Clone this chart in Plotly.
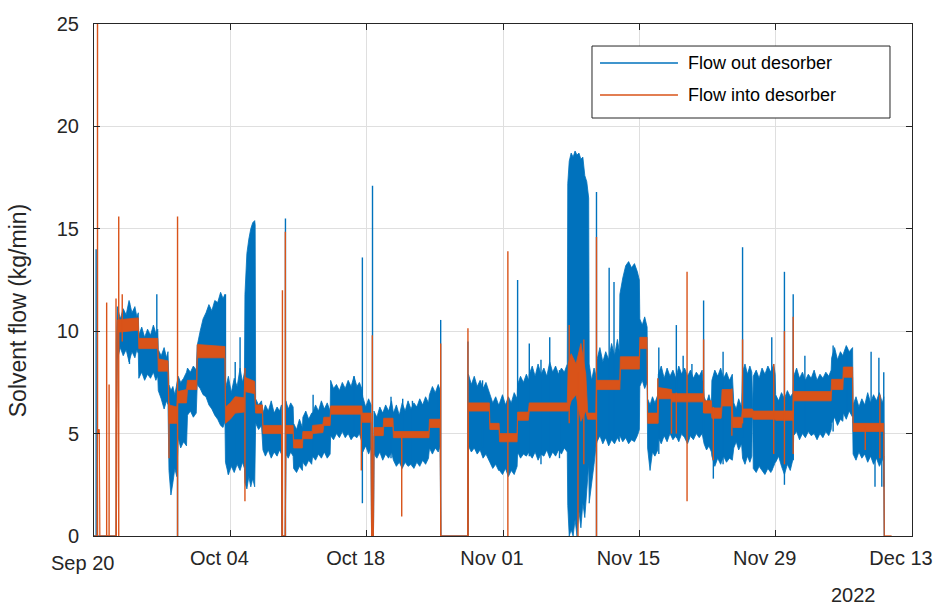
import pandas as pd
import plotly.graph_objects as go

START = pd.Timestamp("2022-09-20")

# ---- Flow out of the desorber (kg/min) -------------------------------------
# Envelope of the logged signal: day since Sep 20, lower and upper bound.
# Lines are grouped by operating period so the three lists stay aligned.
out_days = [
    0.0, 2.28,
    2.3, 2.4, 2.7, 3.0, 3.3, 3.6, 3.9, 4.2, 4.4, 4.55,
    4.6, 4.9, 5.2, 5.5, 5.8, 6.1, 6.35, 6.55,
    6.6, 6.9, 7.2, 7.45, 7.6,
    7.7, 7.9, 8.1, 8.3, 8.5,
    8.65, 8.9, 9.2, 9.5,
    9.6, 9.9, 10.2, 10.5,
    10.6, 10.9, 11.2, 11.5, 11.8, 12.1, 12.4, 12.7, 13.0, 13.25, 13.45,
    13.5, 13.8, 14.1, 14.4, 14.7, 15.0, 15.25, 15.45,
    15.5, 15.7, 15.9, 16.1, 16.3, 16.5, 16.55,
    16.6, 16.9, 17.2,
    17.35, 17.6, 17.9, 18.2, 18.5, 18.8, 19.05, 19.25,
    19.3, 19.65,
    19.7, 19.95, 20.2, 20.45,
    20.5, 20.8, 21.1, 21.4,
    21.45, 21.75, 22.05, 22.35,
    22.45, 22.75, 23.05, 23.35, 23.65, 23.95, 24.25,
    24.3, 24.6, 24.9, 25.2, 25.5, 25.8, 26.1, 26.4, 26.7, 27.0, 27.25, 27.5,
    27.6, 27.9, 28.2, 28.45,
    28.5, 28.7,
    28.75, 29.05, 29.35, 29.65, 29.95, 30.25, 30.55,
    30.75, 31.05, 31.35, 31.65, 31.95, 32.25, 32.55, 32.85, 33.15, 33.45, 33.75, 34.05, 34.35,
    34.45, 34.75, 35.05, 35.35, 35.55,
    35.6, 38.4,
    38.45, 38.75, 39.05, 39.35, 39.65, 39.95, 40.25, 40.55,
    40.65, 40.95, 41.25, 41.55,
    41.65, 41.95, 42.25, 42.55, 42.85, 43.15, 43.45,
    43.5, 43.8, 44.1, 44.4, 44.65,
    44.7, 45.0, 45.3, 45.6, 45.9, 46.2, 46.5, 46.8, 47.1, 47.4, 47.7, 48.0, 48.3, 48.6,
    48.65, 48.8, 49.0, 49.2, 49.4, 49.6, 49.8, 50.0, 50.2, 50.4, 50.6, 50.8,
    50.85, 51.1, 51.35, 51.55,
    51.65, 51.95, 52.25, 52.55, 52.85, 53.15, 53.45, 53.75, 53.95,
    54.0, 54.3, 54.6, 54.9, 55.2, 55.5, 55.8, 56.0,
    56.05, 56.3, 56.55, 56.8,
    56.85, 57.1, 57.35, 57.6, 57.9,
    57.95, 58.25, 58.55, 58.85, 59.15, 59.45, 59.75, 60.05, 60.35, 60.65, 60.95, 61.25, 61.55, 61.85, 62.15, 62.45,
    62.65, 62.9, 63.15, 63.4,
    63.45, 63.75, 64.05, 64.35, 64.65, 64.95, 65.25, 65.55,
    65.7, 65.95, 66.2, 66.5,
    66.6, 66.85, 67.1, 67.35, 67.55,
    67.6, 67.65,
    67.7, 68.0, 68.3, 68.6, 68.9, 69.2, 69.5, 69.8, 69.95,
    70.0, 70.3, 70.6, 70.9, 71.2, 71.5, 71.8,
    71.85, 72.15, 72.45, 72.75, 73.05, 73.35, 73.65, 73.95, 74.25, 74.55, 74.85, 75.15, 75.45, 75.7,
    75.75, 76.05, 76.35, 76.65, 76.9,
    76.95, 77.25, 77.55, 77.9,
    77.95, 78.25, 78.55, 78.85, 79.15, 79.45, 79.75, 80.05, 80.35, 80.65, 80.95, 81.1,
    81.15,
]
out_low = [
    0.0, 0.0,
    5.7, 8.6, 9.2, 8.8, 9.1, 8.5, 9.0, 8.7, 9.1, 8.9,
    7.7, 8.0, 7.6, 7.9, 7.7, 8.0, 7.6, 7.8,
    7.1, 6.7, 6.2, 6.6, 6.4,
    3.2, 2.0, 2.6, 3.3, 2.9,
    4.8, 4.3, 4.6, 4.4,
    5.9, 6.1, 5.8, 6.0,
    7.4, 7.2, 6.9, 6.8, 6.4, 6.2, 5.9, 5.7, 5.4, 5.3, 5.6,
    3.6, 3.0, 3.4, 3.1, 3.5, 3.2, 3.6, 3.3,
    2.6, 2.3, 2.9, 2.4, 2.8, 2.4, 2.6,
    5.5, 5.2, 5.4,
    4.2, 3.9, 4.2, 3.8, 4.1, 3.9, 4.2, 4.0,
    0.0, 0.0,
    4.0, 3.8, 4.1, 3.9,
    3.3, 3.1, 3.4, 3.2,
    3.6, 3.4, 3.7, 3.5,
    3.9, 3.7, 4.0, 3.8, 4.1, 3.8, 4.0,
    4.9, 4.7, 5.0, 4.8, 5.1, 4.8, 5.0, 4.7, 4.9, 4.8, 5.0, 4.6,
    4.1, 4.4, 4.0, 4.3,
    0.0, 0.0,
    4.0, 3.8, 4.1, 3.7, 4.0, 3.8, 4.1,
    3.7, 3.4, 3.6, 3.3, 3.6, 3.4, 3.5, 3.3, 3.6, 3.4, 3.7, 3.5, 3.8,
    4.3, 4.0, 4.3, 4.1, 4.4,
    0.0, 0.0,
    4.4, 4.1, 4.3, 4.0, 4.2, 3.8, 4.0, 3.7,
    3.6, 3.3, 3.5, 3.2,
    3.2, 3.0, 3.3, 2.9, 3.2, 3.0, 3.4,
    4.1, 3.8, 4.0, 3.9, 4.1,
    4.0, 3.8, 4.1, 3.7, 4.0, 3.9, 4.2, 3.8, 4.1, 3.9, 4.2, 4.0, 4.3, 4.1,
    1.5, 0.0, 0.3, 0.0, 0.8, 0.0, 1.2, 0.4, 1.6, 0.9, 2.2, 3.5,
    1.6, 2.4, 3.5, 4.4,
    4.6, 4.9, 4.5, 4.8, 4.4, 4.7, 4.5, 4.8, 4.6,
    4.9, 4.6, 4.8, 4.5, 4.7, 4.6, 4.9, 5.2,
    7.3, 7.6, 7.2, 7.5,
    4.3, 3.2, 4.1, 3.9, 4.2,
    4.8, 4.5, 4.9, 4.6, 5.0, 4.7, 4.9, 4.6, 5.0, 4.8, 4.5, 4.9, 4.7, 5.0, 4.8, 5.0,
    4.5, 4.2, 4.4, 4.1,
    3.9, 3.4, 3.8, 3.5, 3.9, 3.6, 3.8, 3.7,
    4.3, 4.6, 4.2, 4.5,
    3.8, 3.5, 3.9, 3.6, 3.9,
    5.9, 5.9,
    3.3, 3.1, 3.4, 3.2, 3.0, 3.3, 3.1, 3.4, 3.6,
    3.6, 3.9, 3.4, 3.0, 3.5, 3.2, 3.8,
    4.9, 5.1, 4.7, 5.0, 4.8, 5.1, 4.9, 5.0, 4.7, 5.0, 4.8, 5.1, 4.9, 5.2,
    5.5, 5.8, 5.4, 5.7, 5.6,
    6.0, 5.7, 6.1, 5.8,
    4.0, 3.7, 4.1, 3.8, 4.0, 3.6, 3.9, 3.5, 3.8, 3.4, 3.7, 3.9,
    0.0,
]
out_high = [
    0.0, 0.0,
    9.5, 11.2, 10.6, 11.1, 10.8, 11.5, 10.9, 11.2, 10.7, 10.9,
    9.8, 10.2, 9.7, 10.1, 9.8, 10.3, 9.9, 10.1,
    9.1, 8.8, 9.2, 8.7, 9.0,
    7.4, 7.1, 7.3, 6.9, 7.4,
    7.8, 7.5, 7.7, 8.0,
    8.2, 8.0, 8.3, 8.1,
    9.3, 10.0, 10.6, 10.9, 11.3, 11.0, 11.5, 11.4, 11.9, 11.6, 11.8,
    7.2, 7.8, 7.0, 7.7, 7.3, 8.2, 7.5, 8.0,
    11.8, 13.8, 14.5, 15.0, 15.3, 15.4, 15.2,
    6.7, 6.4, 6.6,
    6.0, 6.4, 6.1, 6.6, 6.0, 6.3, 6.1, 6.4,
    0.0, 0.0,
    6.6, 6.2, 6.5, 6.3,
    5.5, 5.2, 5.7, 5.3,
    5.8, 6.1, 5.7, 6.0,
    6.0, 6.4, 6.1, 6.6, 6.2, 6.5, 6.1,
    7.6, 7.2, 7.4, 7.1, 7.5, 7.2, 7.6, 7.3, 7.8, 7.3, 7.5, 7.2,
    6.8, 6.3, 6.7, 6.4,
    0.0, 0.0,
    6.1, 5.8, 6.3, 6.0, 6.4, 6.1, 6.6,
    6.0, 6.4, 5.9, 6.5, 6.1, 6.6, 6.2, 6.5, 6.3, 6.7, 6.4, 6.8, 6.5,
    6.9, 7.3, 7.0, 7.4, 7.1,
    0.0, 0.0,
    7.9, 7.4, 7.8, 7.3, 7.6, 7.2, 7.5, 7.1,
    6.9, 6.5, 6.8, 6.4,
    6.5, 6.9, 6.4, 6.8, 6.5, 7.0, 6.7,
    7.4, 7.8, 7.5, 7.9, 7.6,
    7.9, 8.3, 7.8, 8.4, 7.9, 8.2, 7.8, 8.5, 8.0, 8.3, 7.9, 8.2, 8.0, 8.4,
    17.2, 18.3, 18.7, 18.5, 18.8, 18.6, 18.7, 18.4, 18.5, 17.6, 17.3, 16.5,
    8.4, 7.6, 8.2, 7.8,
    8.6, 9.2, 8.5, 9.0, 8.6, 9.4, 8.8, 9.6, 9.0,
    11.8, 12.6, 13.2, 13.4, 13.1, 13.3, 12.9, 12.5,
    10.6, 10.3, 10.7, 10.2,
    6.7, 6.4, 6.8, 6.5, 6.9,
    7.9, 8.3, 7.7, 8.2, 7.8, 8.1, 7.7, 8.3, 7.9, 8.2, 7.8, 8.1, 7.7, 8.0, 7.8, 8.1,
    6.8, 6.5, 6.9, 6.4,
    7.6, 8.1, 7.8, 8.2, 7.7, 8.0, 7.6, 7.9,
    6.5, 6.2, 6.7, 6.3,
    8.0, 8.4, 7.9, 8.3, 8.0,
    6.1, 6.1,
    7.8, 8.1, 7.7, 8.2, 7.9, 8.3, 8.0, 8.4, 7.9,
    6.9, 6.6, 7.0, 6.7, 7.1, 6.8, 7.0,
    7.8, 8.2, 7.7, 8.0, 7.6, 7.9, 7.7, 8.1, 7.6, 7.9, 7.7, 8.0, 7.8, 8.1,
    8.7, 9.2, 8.6, 9.0, 8.8,
    8.9, 9.3, 9.0, 9.2,
    6.4, 6.8, 6.3, 6.7, 6.4, 7.0, 6.5, 6.9, 6.6, 7.0, 6.5, 6.8,
    0.0,
]

# Short excursions of the outlet flow: day, lower end, upper end
out_spike_days = [0.22, 3.64, 6.45, 8.58, 13.5, 13.8, 14.5, 15.0, 19.66, 22.5, 26.7, 27.56,
                  28.6, 30.5, 31.7, 32.7, 35.3, 35.6, 38.4, 39.9, 43.5, 44.7, 45.9, 46.8,
                  47.8, 51.6, 52.9, 53.4, 58.0, 59.8, 60.5, 61.4, 62.6, 63.6, 64.6, 66.6,
                  69.6, 70.9, 71.8, 73.0, 75.9, 77.3, 79.8, 80.2, 80.6, 80.9, 81.1]
out_spike_low = [0.0, 8.4, 7.8, 0.0, 5.8, 3.0, 3.4, 3.5, 0.0, 3.9, 4.9, 1.6,
                 0.0, 3.8, 3.6, 3.4, 4.2, 0.0, 0.0, 4.3, 4.0, 3.9, 3.5, 4.0,
                 3.8, 0.0, 4.7, 4.7, 4.0, 4.8, 4.9, 4.8, 5.0, 2.8, 3.5, 4.8,
                 3.2, 2.5, 3.7, 5.0, 5.1, 5.9, 4.0, 2.4, 4.0, 2.4, 2.4]
out_spike_high = [14.0, 11.4, 11.8, 7.5, 11.8, 7.5, 8.5, 9.7, 15.5, 6.9, 7.8, 13.6,
                  17.1, 6.8, 6.7, 6.6, 7.3, 10.55, 9.5, 7.6, 12.5, 9.4, 8.6, 9.7,
                  8.1, 16.8, 13.1, 12.4, 9.2, 10.3, 8.8, 8.4, 11.5, 6.6, 9.0, 14.1,
                  9.7, 12.9, 11.8, 8.8, 9.3, 9.2, 9.0, 6.5, 8.7, 6.5, 8.0]

# ---- Flow into the desorber (kg/min) ---------------------------------------
in_days = [0.0, 0.33, 0.35, 0.55, 0.6, 2.3, 2.4, 4.55, 4.6, 6.55, 6.6, 7.6, 7.7, 8.5, 8.6,
           9.5, 9.6, 10.55, 10.6, 13.45, 13.5, 14.0, 14.5, 15.4, 15.5, 16.5, 16.6, 17.3,
           17.35, 19.25, 19.3, 19.65, 19.7, 20.45, 20.5, 21.4, 21.45, 22.4, 22.45, 23.5,
           23.6, 24.25, 24.3, 27.5, 27.55, 28.45, 28.5, 28.7, 28.75, 29.7, 29.75, 30.7,
           30.75, 34.4, 34.45, 35.55, 35.6, 38.4, 38.45, 40.6, 40.65, 41.6, 41.65, 43.45,
           43.5, 44.6, 44.7, 48.6, 48.7, 49.0, 49.5, 50.0, 50.5, 50.7, 51.55, 51.6, 54.0,
           54.05, 56.0, 56.05, 56.8, 56.85, 57.9, 57.95, 59.3, 59.35, 62.6, 62.65, 63.4,
           63.45, 64.4, 64.5, 65.5, 65.6, 66.5, 66.6, 67.6, 67.7, 69.9, 70.0, 71.8, 71.85,
           75.7, 75.75, 76.9, 76.95, 77.9, 77.95, 81.1, 81.15, 81.9]
in_low = [0.0, 0.0, 5.0, 5.0, 0.0, 0.0, 9.95, 10.05, 9.15, 9.15, 8.05, 8.05, 5.5, 5.5, 6.5,
          6.5, 7.15, 7.15, 8.7, 8.7, 5.5, 5.7, 6.0, 6.05, 7.05, 6.95, 6.0, 6.0,
          5.0, 5.0, 0.0, 0.0, 5.0, 5.0, 4.3, 4.3, 4.75, 4.75, 5.0, 5.05,
          5.4, 5.4, 5.95, 5.95, 5.55, 5.55, 0.0, 0.0, 4.9, 4.9, 5.35, 5.35,
          4.8, 4.8, 5.3, 5.3, 0.0, 0.0, 6.1, 6.1, 5.2, 5.2, 4.6, 4.6,
          5.65, 5.65, 6.1, 6.1, 6.1, 6.6, 6.9, 5.6, 6.1, 5.7, 5.7, 7.15, 7.15,
          8.15, 8.15, 9.15, 9.15, 5.5, 5.5, 6.7, 6.7, 6.55, 6.55, 6.0, 6.0,
          5.75, 5.75, 6.35, 6.35, 5.3, 5.3, 5.8, 5.8, 5.7, 5.7, 5.65, 5.65, 6.6,
          6.6, 7.15, 7.15, 7.75, 7.75, 5.1, 5.1, 0.0, 0.0]
in_high = [0.0, 0.0, 5.2, 5.2, 0.0, 0.0, 10.55, 10.65, 9.65, 9.65, 8.65, 8.55, 6.4, 6.3, 7.05,
           7.15, 7.6, 7.6, 9.35, 9.25, 6.3, 6.5, 6.8, 6.75, 7.75, 7.55, 6.4, 6.4,
           5.4, 5.4, 0.0, 0.0, 5.4, 5.4, 4.7, 4.7, 5.1, 5.1, 5.4, 5.45,
           5.8, 5.8, 6.35, 6.35, 6.0, 6.0, 0.0, 0.0, 5.3, 5.3, 5.75, 5.75,
           5.1, 5.1, 5.7, 5.7, 0.0, 0.0, 6.5, 6.5, 5.5, 5.5, 5.0, 5.0,
           6.05, 6.05, 6.5, 6.5, 8.4, 8.9, 8.4, 9.4, 7.9, 6.0, 6.0, 7.6, 7.6,
           8.75, 8.75, 9.7, 9.7, 6.0, 6.0, 7.25, 7.15, 6.95, 6.95, 6.6, 6.6,
           6.25, 6.25, 7.15, 7.15, 5.8, 5.8, 6.2, 6.2, 6.1, 6.1, 6.1, 6.1, 7.05,
           7.05, 7.65, 7.65, 8.25, 8.25, 5.5, 5.5, 0.0, 0.0]

# Short excursions of the inlet flow: day, lower end, upper end
in_spike_days = [0.36, 1.3, 1.55, 2.26, 2.54, 2.9, 7.7, 8.58, 15.5, 19.35, 19.65, 27.45,
                 28.58, 31.6, 35.6, 38.4, 42.5, 48.8, 49.7, 50.3, 51.6, 57.9, 59.3, 59.8,
                 60.9, 62.6, 63.6, 65.5, 66.6, 69.8, 70.9, 71.8, 79.2, 80.7]
in_spike_low = [0.0, 0.0, 0.0, 0.0, 0.0, 9.5, 3.8, 0.0, 1.7, 0.0, 0.0, 3.2,
                0.0, 0.95, 0.0, 0.0, 0.0, 5.5, 0.0, 3.5, 0.0, 5.5, 5.0, 5.0,
                1.7, 6.0, 3.7, 4.9, 5.5, 4.0, 3.5, 4.0, 4.2, 3.8]
in_spike_high = [25.5, 11.4, 7.4, 11.6, 15.6, 11.8, 6.5, 15.6, 8.2, 12.0, 14.85, 6.2,
                 9.8, 5.0, 9.4, 10.15, 13.9, 10.3, 8.0, 9.6, 14.6, 7.7, 7.0, 7.0,
                 12.9, 9.6, 6.3, 7.2, 9.6, 8.4, 10.0, 10.7, 5.3, 6.9]

# ---- Axes ------------------------------------------------------------------
tick_days = [0, 14, 28, 42, 56, 70, 84]
tick_labels = ["Sep 20", "Oct 04", "Oct 18", "Nov 01", "Nov 15", "Nov 29", "Dec 13"]
y_ticks = [0, 5, 10, 15, 20, 25]
series_names = ["Flow out desorber", "Flow into desorber"]

assert len(out_days) == len(out_low) == len(out_high)
assert len(in_days) == len(in_low) == len(in_high)

BLUE = "#0072BD"
ORANGE = "#D95319"
INK = "#262626"
FONT = "Liberation Sans, Arial, Helvetica, sans-serif"


def to_dates(days):
    return [START + pd.Timedelta(days=float(d)) for d in days]


def band(days, low, high, color, name):
    x = to_dates(days)
    return go.Scatter(
        x=x + x[::-1], y=list(high) + list(low)[::-1],
        mode="lines", fill="toself", fillcolor=color,
        line=dict(color=color, width=0.8), name=name,
        showlegend=False, hoverinfo="skip")


def strokes(days, low, high, color, name):
    xs, ys = [], []
    for t, lo, hi in zip(to_dates(days), low, high):
        xs += [t, t, None]
        ys += [lo, hi, None]
    return go.Scatter(x=xs, y=ys, mode="lines", line=dict(color=color, width=1.4),
                      name=name, showlegend=False, hoverinfo="skip")


fig = go.Figure()
fig.add_trace(band(out_days, out_low, out_high, BLUE, series_names[0]))
fig.add_trace(strokes(out_spike_days, out_spike_low, out_spike_high, BLUE, series_names[0]))
fig.add_trace(band(in_days, in_low, in_high, ORANGE, series_names[1]))
fig.add_trace(strokes(in_spike_days, in_spike_low, in_spike_high, ORANGE, series_names[1]))

axis_common = dict(
    showline=True, linecolor=INK, linewidth=1, mirror="allticks",
    ticks="inside", ticklen=6, tickcolor=INK, tickwidth=1,
    showgrid=True, gridcolor="#DFDFDF", gridwidth=1, zeroline=False,
    automargin=False,
    tickfont=dict(family=FONT, size=20, color=INK),
)

# The first date label sits a little lower than the rest, so it is placed
# separately below the axis; the remaining labels come from the axis itself.
axis_text = [""] + tick_labels[1:]

fig.update_layout(
    width=934, height=605,
    margin=dict(l=94, r=22, t=24, b=69),
    paper_bgcolor="white", plot_bgcolor="white",
    showlegend=False,
    xaxis=dict(
        type="date",
        range=[START, START + pd.Timedelta(days=tick_days[-1])],
        tickvals=to_dates(tick_days), ticktext=axis_text,
        ticklabelshift=-11, ticklabelstandoff=4,
        **axis_common),
    yaxis=dict(range=[0, 25], tickvals=y_ticks, ticklabelstandoff=10, **axis_common),
)

fig.add_annotation(xref="x", yref="paper", x=to_dates(tick_days[:1])[0], y=-0.0527,
                   xshift=-12, text=tick_labels[0], showarrow=False,
                   xanchor="center", yanchor="middle",
                   font=dict(family=FONT, size=20, color=INK))

# Legend box drawn in axes-fraction coordinates
fig.add_shape(type="rect", xref="paper", yref="paper", x0=0.6088, x1=0.9731,
              y0=0.8164, y1=0.957, line=dict(color=INK, width=1), fillcolor="white",
              layer="above")
for y_pos, color, label in [(0.9238, BLUE, series_names[0]), (0.8613, ORANGE, series_names[1])]:
    fig.add_shape(type="line", xref="paper", yref="paper", x0=0.6186, x1=0.7139,
                  y0=y_pos, y1=y_pos, line=dict(color=color, width=1.5), layer="above")
    fig.add_annotation(xref="paper", yref="paper", x=0.7237, y=y_pos, text=label,
                       showarrow=False, xanchor="left", yanchor="middle",
                       font=dict(family=FONT, size=18, color="black"))

# Axis title and year marker
fig.add_annotation(xref="paper", yref="paper", x=-0.0929, y=0.439,
                   text="Solvent flow (kg/min)", textangle=-90, showarrow=False,
                   xanchor="center", yanchor="middle",
                   font=dict(family=FONT, size=23, color=INK))
fig.add_annotation(xref="paper", yref="paper", x=0.928, y=-0.1152, text="2022",
                   showarrow=False, xanchor="center", yanchor="middle",
                   font=dict(family=FONT, size=20, color=INK))

fig.write_html("out.html")
